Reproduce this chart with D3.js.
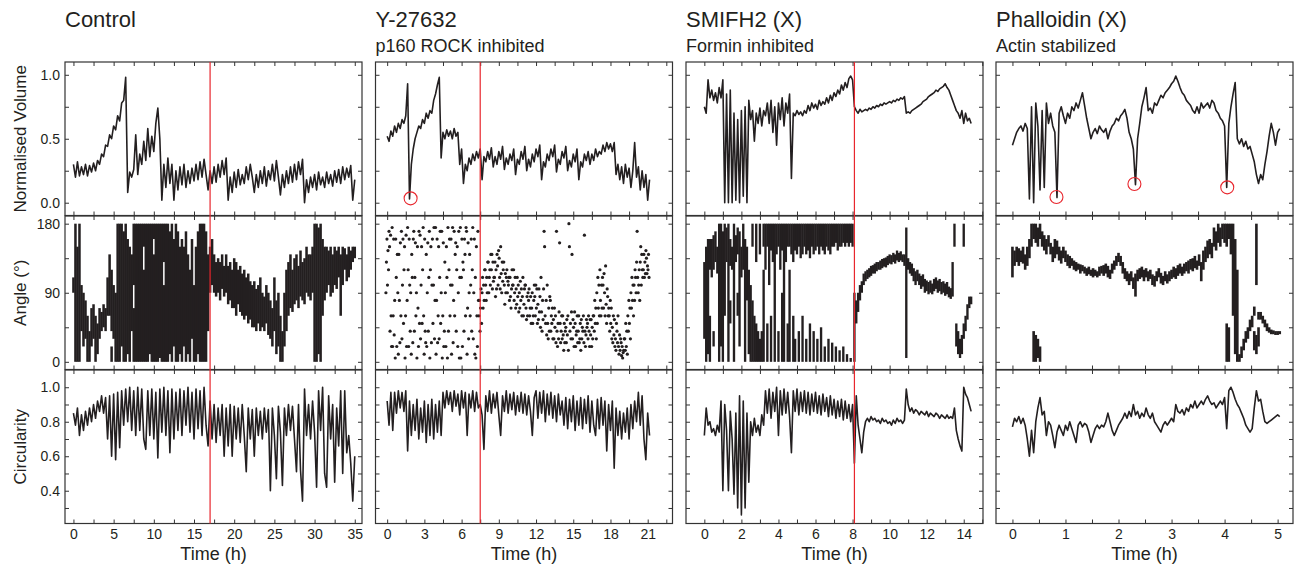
<!DOCTYPE html>
<html>
<head>
<meta charset="utf-8">
<script src="https://cdn.jsdelivr.net/npm/d3@7"></script>
<style>
  body { margin: 0; background: #fff; }
  svg text { font-family: "Liberation Sans", Arial, Helvetica, sans-serif; fill: #231f20; }
</style>
</head>
<body>
<svg id="chart" width="1294" height="572"></svg>
<script>
// ---- data ----
const titles = ["Control", "Y-27632", "SMIFH2 (X)", "Phalloidin (X)"];
const subtitles = ["", "p160 ROCK inhibited", "Formin inhibited", "Actin stabilized"];
const rowTitles = ["Normalised Volume", "Angle (\u00b0)", "Circularity"];
const sampleStep = [0.25, 0.15, 0.1, 0.04]; // hours between volume / circularity samples
const angleStep = [0.25, 0.25, 0.1, 0.04];  // hours between angle samples
const xTicks = [d3.range(0, 36, 2.5), d3.range(0, 23, 1.5), d3.range(0, 15.5, 1), d3.range(0, 5.5, 0.5)];
const xLabels = [[0, 5, 10, 15, 20, 25, 30, 35], [0, 3, 6, 9, 12, 15, 18, 21], [0, 2, 4, 6, 8, 10, 12, 14], [0, 1, 2, 3, 4, 5]];
const yTicks = [[0, 0.25, 0.5, 0.75, 1], [0, 45, 90, 135, 180], [0.3, 0.4, 0.5, 0.6, 0.7, 0.8, 0.9, 1.0]];
const yLabels = [[0, 0.5, 1], [0, 90, 180], [0.4, 0.6, 0.8, 1.0]];
const redLineAt = [17, 7.5, 8.1, null];
const circledDips = [[], [[1.89, 0.034]], [], [[0.83, 0.045], [2.30, 0.146], [4.05, 0.12]]];

const volControl = [0.30,0.20,0.32,0.21,0.28,0.22,0.30,0.21,0.29,0.24,0.31,0.25,0.33,
  0.30,0.38,0.36,0.45,0.44,0.53,0.50,0.60,0.57,0.68,0.64,0.78,0.80,0.98,0.08,
  0.24,0.20,0.26,0.53,
  0.22,0.38,0.30,0.48,0.33,0.58,0.36,0.52,0.40,0.62,0.74,0.50,0.02,
  0.30,0.12,0.35,0.15,0.30,0.02,
  0.25,0.10,0.28,0.14,0.30,0.12,0.25,0.15,0.27,0.17,0.30,0.18,0.32,0.20,0.34,0.22,0.10,
  0.25,0.15,0.28,0.16,0.30,0.20,0.33,0.22,0.35,0.02,
  0.20,0.08,0.24,0.12,0.26,0.14,0.22,0.15,0.28,0.18,0.30,0.20,0.08,
  0.22,0.12,0.25,0.15,0.28,0.13,0.25,0.18,0.30,0.17,0.33,0.20,0.06,
  0.22,0.12,0.25,0.15,0.28,0.16,0.30,0.18,0.32,0.22,0.34,0.00,
  0.18,0.08,0.20,0.12,0.22,0.10,0.24,0.14,0.20,0.12,0.24,0.15,0.22,0.13,0.25,0.16,0.26,0.15,0.28,0.18,0.27,0.20,0.29,0.02,0.18];

// angle: per sample, [lo, hi] ranges covered by the dots
const angControl = [[90,110],[0,180],[0,150],[0,180],[40,100],[20,90],[30,80],[0,60],[0,40],[20,70],
  [30,75],[0,60],[10,50],[30,70],[40,65],[45,75],[40,70],[60,110],[60,140],[0,20,40,120],
  [30,100],[0,90],[0,180],[0,180],[20,180],[0,170],[0,180],[10,160],[0,150],[40,140],
  [0,70,100,180],[0,180],[0,180],[0,180],[0,180],[0,120,150,180],[0,180],[0,180],[10,180],[0,180],
  [0,140,160,180],[0,180],[0,180],[5,180],[0,180],[0,100,130,180],[0,180],[0,180],[10,170],[0,180],
  [20,160],[0,180],[0,170],[10,150],[0,160],[20,150],[0,170],[10,140],[0,120],[30,160],
  [0,100],[0,150],[10,170],[0,180],[0,180],[0,180],[0,170],[40,140],
  [90,150],[100,160],[90,140],[85,130],[90,135],[80,130],[95,140],[85,125],[90,140],[75,125],[80,130],[70,120],
  [70,135],[60,130],[75,120],[65,125],[60,115],[55,120],[60,110],[50,115],[55,105],[45,100],
  [45,105],[40,95],[50,100],[40,110],[45,90],[40,85],[50,100],[35,90],[30,80],[20,70],
  [40,110],[10,80],[20,90],[0,60],[0,40],[20,90],[40,120],
  [60,130],[70,140],[65,120],[75,135],[80,140],[70,125],[85,145],[80,130],[75,135],[90,150],[85,140],[80,140],[90,150],
  [0,180],[0,180],[10,175],[0,180],[60,160],[80,150],
  [90,150],[100,145],[85,150],[90,140],[100,150],[95,145],[110,150],[60,140],[100,150],[120,148],[105,140],[110,150],[120,145],[130,150],[135,150]];

const circControl = [0.85,0.78,0.88,0.72,0.84,0.75,0.86,0.78,0.88,0.80,0.90,0.82,0.92,
  0.86,0.95,0.85,0.94,
  0.70,0.95,0.60,0.96,0.58,0.97,0.65,0.98,
  0.78,0.99,0.80,1.00,0.75,0.98,0.72,1.00,
  0.75,0.99,0.70,0.64,0.98,0.72,0.99,0.70,0.97,0.59,0.99,0.74,1.00,0.72,0.98,0.62,0.99,0.70,0.97,0.75,
  0.99,0.72,0.98,0.78,1.00,0.74,0.97,0.70,0.99,0.76,0.98,0.72,1.00,0.78,
  0.66,0.92,0.70,0.90,0.68,0.88,0.72,0.90,0.60,0.88,0.66,0.90,0.60,0.89,
  0.70,0.88,0.68,0.90,0.72,0.51,0.88,0.70,0.87,0.60,0.88,0.72,0.86,0.70,0.88,0.74,0.87,0.40,0.88,0.72,
  0.47,0.89,0.74,0.43,0.88,0.72,0.90,0.75,0.89,0.70,0.51,0.90,0.52,0.34,0.99,0.72,0.90,0.70,0.92,0.74,
  0.42,0.98,0.75,1.00,0.50,0.42,0.95,0.70,0.90,0.45,0.88,0.66,0.98,0.50,0.98,0.62,0.72,0.56,0.34,0.60];

const volY27632 = [0.52,0.48,0.56,0.52,0.60,0.55,0.62,0.58,0.65,0.62,0.68,0.93,0.03,
  0.30,0.42,0.50,0.55,0.60,0.58,0.65,0.62,0.70,0.66,0.72,0.70,0.80,0.85,0.92,0.98,0.35,
  0.55,0.50,0.57,0.52,0.56,0.50,0.58,0.52,0.55,0.30,0.42,0.15,
  0.30,0.25,0.35,0.30,0.38,0.33,0.40,0.35,0.42,0.18,0.36,0.32,0.40,0.34,0.43,0.28,0.36,0.30,0.40,0.34,
  0.44,0.26,0.35,0.30,0.38,0.33,0.42,0.22,0.34,0.30,0.40,0.34,0.44,0.25,0.34,0.28,0.38,0.32,0.42,0.36,
  0.45,0.18,0.32,0.28,0.38,0.33,0.42,0.36,0.45,0.24,0.34,0.30,0.40,0.35,0.44,0.25,0.33,0.28,0.38,0.32,
  0.42,0.18,0.32,0.28,0.38,0.33,0.40,0.30,0.38,0.33,0.42,0.36,0.40,
  0.38,0.45,0.40,0.47,0.42,0.46,0.40,0.47,0.22,
  0.30,0.18,0.28,0.15,0.30,0.20,0.27,0.12,0.25,0.47,0.20,0.28,0.10,0.25,0.12,0.22,0.02,0.18];

// angle: per sample, the individual dot angles
const angY27632 = [
  [90,130,160,100,145,120],[170,150,40,165,60,20],[175,20,60,160,35,80],[5,160,110,20,140,90],
  [10,140,80,25,155,60],[170,30,100,160,50,120],[150,5,60,165,20,80],[175,120,20,160,100,40],
  [90,10,140,110,25,160],[170,40,110,155,60,90],[5,150,70,20,170,50],[165,30,100,150,50,120],
  [175,60,10,160,40,25],[140,20,90,155,40,110],[170,5,120,150,25,100],[160,50,100,175,30,80],
  [175,10,80,160,25,60],[150,30,110,170,50,90],[170,5,60,155,20,40],[130,90,20,150,110,5],
  [175,40,120,160,60,100],[160,10,100,175,25,80],[170,60,140,155,40,120],[150,20,90,170,5,110],
  [175,5,110,160,20,130],[120,40,160,140,60,175],[170,10,70,155,30,90],[140,60,100,160,40,120],
  [175,30,90,160,10,110],[5,150,60,20,170,80],[60,80,40,70,95,50],[90,110,70,100,80,120],
  [120,100,80,110,90,130],[130,90,110,120,100,140],[120,140,95,130,105,110],[110,130,85,120,95,140],
  [125,100,145,135,110,95],[150,115,90,130,105,120],[130,100,75,115,90,110],[120,90,105,100,110,80],
  [110,85,70,95,120,100],[100,120,80,90,110,70],[95,75,110,85,100,65],[90,70,105,80,95,60],
  [85,110,60,75,95,100],[100,70,55,85,60,90],[80,95,60,70,85,50],[70,90,50,60,80,100],
  [85,60,100,70,95,50],[75,55,95,65,85,45],[110,65,40,80,55,95],[170,150,60,50,80,35],
  [100,50,30,70,40,85],[80,40,60,50,70,30],[55,30,70,45,60,25],[170,40,20,50,30,65],
  [155,50,25,40,60,30],[60,35,15,50,25,40],[45,25,55,35,60,15],[180,150,40,50,30,65],
  [140,30,55,45,20,65],[50,20,35,40,60,25],[40,60,25,30,50,15],[55,30,45,40,60,25],
  [165,40,20,35,55,45],[50,30,60,40,20,55],[35,55,20,45,30,60],[60,40,80,50,70,30],
  [90,50,110,70,100,60],[120,80,60,100,70,110],[100,70,115,90,60,125],[75,50,95,85,60,70],
  [60,40,80,50,70,30],[45,25,60,35,55,20],[30,15,50,40,25,60],[20,10,35,15,30,25],
  [8,20,5,12,15,30],[30,15,50,20,40,10],[60,40,80,50,70,30],[90,70,110,80,100,60],
  [100,80,120,110,90,130],[170,110,90,100,120,80],[130,150,100,140,120,110],[120,140,110,130,115,145],
  [135,115,125,120,140,110]];

const circY27632 = [0.92,0.78,0.97,0.75,0.97,0.85,0.98,0.88,0.97,0.86,0.98,0.63,
  0.92,0.72,0.90,0.75,0.93,0.70,0.88,0.74,0.92,0.68,0.90,0.72,0.93,0.70,0.90,0.74,0.92,0.72,
  0.97,0.88,0.98,0.90,0.97,0.86,0.98,0.89,0.96,0.84,0.98,0.88,0.97,0.72,0.96,0.88,0.98,0.86,0.97,0.88,
  0.90,0.84,0.64,
  0.95,0.86,0.98,0.85,0.96,0.88,0.97,0.84,0.72,0.95,0.86,0.98,0.85,0.96,0.87,0.97,0.84,0.95,0.86,0.97,
  0.85,0.96,0.84,0.95,0.86,0.72,0.94,
  0.98,0.82,0.97,0.85,0.98,0.80,0.96,0.84,0.97,0.82,0.95,0.80,0.96,0.84,
  0.92,0.78,0.94,0.76,0.93,0.80,0.95,0.75,0.92,0.78,0.94,0.76,0.93,0.79,0.95,0.74,0.92,0.78,0.72,0.93,
  0.76,0.94,0.78,0.92,0.63,0.90,0.75,0.92,0.53,
  0.88,0.72,0.86,0.70,0.85,0.74,0.88,0.70,0.90,0.76,0.92,0.80,0.97,0.78,0.95,0.70,0.58,0.85,0.72];

const volSMIFH2 = [0.75,0.70,0.96,0.82,0.88,0.80,0.86,0.78,0.90,0.82,0.96,0.00,0.85,0.00,0.88,
  0.00,0.70,0.02,0.65,0.00,0.72,0.05,0.75,0.00,0.80,
  0.65,0.72,0.48,0.70,0.62,0.74,0.60,0.72,
  0.68,0.78,0.62,0.80,0.55,0.75,0.45,0.78,0.65,0.82,0.60,0.78,0.70,0.85,0.19,0.70,
  0.68,0.72,0.69,0.71,0.68,0.72,
  0.70,0.76,0.72,0.78,0.74,0.77,0.73,0.80,0.76,0.79,0.77,0.82,0.78,0.84,0.80,0.86,0.83,0.88,0.85,0.92,
  0.88,0.94,0.90,0.97,0.99,
  0.96,0.75,
  0.72,0.70,0.73,0.71,0.72,0.73,0.72,0.74,0.73,0.75,0.74,0.76,0.75,0.77,0.76,0.78,0.77,0.78,0.79,0.78,
  0.80,0.79,0.81,0.80,0.82,0.81,0.83,
  0.70,
  0.71,0.70,0.72,0.73,0.74,0.75,0.76,0.77,0.79,0.80,0.81,0.83,0.84,0.85,0.86,0.88,0.87,0.89,0.90,0.91,0.93,
  0.90,0.88,0.84,0.80,0.76,0.72,0.70,
  0.66,0.72,0.62,0.70,0.64,0.66,0.62];

const angSMIFH2 = [[30,130],[0,150],[10,160],[0,60,120,160],[110,160],[20,40,120,165],[130,170],[115,150],[0,180],[20,180],
  [0,170],[60,180],[130,175],[0,180],[50,80,125,160],[120,150],[0,180],[130,165],[60,90,140,175],[20,170],
  [110,150],[120,180],[0,160],[80,150],[10,120],[0,100],[0,80,150,180],[0,60],[0,50,130,180],[0,40],
  [0,30,140,180],[0,40],[0,120,150,180],
  [120,180],[0,50,150,180],[100,180],[0,60,145,180],[130,180],[0,180],[140,180],[0,40,150,180],[120,180],[0,90,145,180],
  [0,180],[130,180],[0,50,150,180],[0,120,150,180],[140,180],[0,60,130,180],[0,30,145,180],[140,180],[0,40,150,180],[135,180],
  [0,60,140,180],[150,180],[0,30,140,180],[145,180],[0,50,135,180],[150,180],[0,40,140,180],[145,180],[0,30,150,180],[140,180],
  [0,45,150,180],[145,180],[0,20,140,180],[150,180],[0,30,145,180],[140,180],[0,25,150,180],[150,180],[0,20,155,180],[145,180],
  [0,15,150,180],[150,180],[0,20,155,180],[150,180],[0,10,155,180],[150,180],[0,5,155,180],[150,180],
  [0,90],[50,80],[65,90],[80,100],[90,105],
  [100,115],[105,118],[108,120],[110,122],[112,125],[115,126],[115,128],[118,130],[120,130],[120,132],
  [122,134],[124,135],[123,136],[126,138],[128,140],[127,139],[130,142],[128,140],[132,145],[130,142],
  [132,144],[130,140],[125,140],
  [5,175],
  [120,135],[115,130],[112,128],[105,122],[100,118],[105,120],[100,115],[95,112],[98,114],[90,108],
  [92,106],[88,104],[90,106],[88,102],[92,108],[95,110],[90,106],[92,108],[88,104],[90,105],
  [86,102],[88,104],[84,98],[82,96],
  [85,130],[150,180],[20,50],[10,40],[5,30],[10,35],[30,50,150,180],[40,60],[55,75],[70,85],[75,85]];

const circSMIFH2 = [0.72,0.88,0.78,0.80,0.74,0.76,0.72,0.78,0.74,0.92,
  0.40,0.90,0.75,0.40,0.86,0.70,0.38,0.85,0.30,0.95,0.26,0.92,0.30,0.85,0.45,
  0.80,0.72,0.82,0.74,0.78,0.72,0.84,0.78,
  0.98,0.85,0.99,0.82,0.97,0.86,1.00,0.72,0.98,0.84,0.99,0.85,0.97,0.83,0.62,0.98,0.86,0.99,0.84,0.97,
  0.86,0.98,0.85,0.97,0.84,0.96,0.86,0.97,0.85,0.95,0.84,0.96,0.86,0.94,0.83,0.95,0.84,0.93,0.82,0.92,
  0.83,0.93,0.81,0.92,0.82,0.90,0.80,0.90,
  0.56,0.95,0.78,0.70,0.62,0.74,0.80,
  0.82,0.80,0.83,0.81,0.82,0.80,0.81,0.79,0.82,0.80,0.81,0.79,0.80,0.78,0.81,0.79,0.82,0.80,0.81,0.79,0.81,
  0.99,
  0.90,0.86,0.88,0.85,0.87,0.86,0.84,0.86,0.85,0.84,0.86,0.83,0.85,0.84,0.83,0.85,0.84,0.82,0.84,0.83,
  0.82,0.84,0.82,0.83,
  0.82,0.88,0.75,0.70,0.66,0.63,1.00,0.96,0.94,0.90,0.86];

const volPhalloidin = [0.45,0.50,0.55,0.58,0.60,0.56,0.62,0.58,0.03,0.75,0.00,0.78,0.60,0.10,0.72,0.12,0.78,0.62,0.70,0.60,
  0.55,0.04,0.70,0.75,0.68,0.62,0.70,0.66,0.75,0.72,0.78,0.74,0.80,0.86,0.76,0.66,0.58,0.50,0.55,0.58,
  0.54,0.60,0.57,0.55,0.58,0.50,0.56,0.60,0.62,0.66,0.64,0.68,0.70,0.73,0.66,0.55,0.50,0.42,0.14,0.50,
  0.62,0.75,0.82,0.90,0.72,0.74,0.70,0.78,0.76,0.80,0.84,0.82,0.86,0.88,0.90,0.93,0.95,0.99,0.95,0.90,
  0.86,0.84,0.80,0.78,0.76,0.72,0.70,0.75,0.70,0.78,0.74,0.76,0.78,0.74,0.80,0.78,0.72,0.70,0.66,0.64,
  0.60,0.12,0.62,0.75,0.85,0.94,0.50,0.46,0.50,0.44,0.48,0.42,0.44,0.38,0.32,0.22,0.15,0.22,0.18,0.30,
  0.40,0.52,0.62,0.55,0.45,0.55,0.58];

const angPhalloidin = [[110,150],[125,145],[130,150],[125,148],[130,145],[128,150],[120,140],[125,150],[135,160],[150,180],
  [0,40,160,180],[0,35,155,180],[5,30,150,175],[0,20,160,180],[150,170],[145,165],[140,160],[150,165],[140,155],[130,150],
  [135,160],[140,158],[132,150],[128,145],[135,150],[130,145],[125,140],[122,138],[125,135],[120,132],
  [118,130],[120,128],[115,127],[118,126],[115,124],[112,122],[114,124],[112,120],[110,122],[112,120],
  [110,118],[112,124],[115,125],[112,126],[115,128],[110,125],[108,120],[115,128],[120,132],[125,138],
  [130,142],[125,138],[115,130],[108,122],[105,118],[100,115],[105,118],[95,110],[85,115],[105,120],
  [108,122],[110,124],[105,120],[110,122],[105,118],[108,120],[100,114],[98,112],[105,118],[110,122],
  [102,116],[100,112],[105,118],[102,114],[105,118],[108,120],[110,124],[108,122],[112,126],[115,128],
  [112,124],[115,128],[118,130],[115,132],[120,134],[118,135],[122,138],[120,132],[125,140],[105,130],
  [120,145],[130,150],[135,158],[140,160],[135,155],[150,175],[145,170],[155,180],[150,175],[160,180],
  [155,180],[0,50,150,180],[0,45,160,180],[140,180],[60,180],[10,160],[0,120],[0,10],[5,20],[15,30],
  [25,40],[30,45],[40,55],[45,60],[15,40,60,72],[10,35,100,180],[20,45,55,65],[55,65],[50,60],[45,55],
  [40,50],[38,45],[36,42],[36,41],[35,40],[35,40],[36,40]];

const circPhalloidin = [0.77,0.82,0.80,0.83,0.79,0.82,0.78,0.70,0.60,0.75,0.62,0.80,0.88,0.94,0.84,0.86,0.72,0.80,0.78,0.72,
  0.65,0.74,0.78,0.75,0.72,0.78,0.75,0.80,0.76,0.72,0.68,0.78,0.80,0.77,0.79,0.78,0.74,0.68,0.72,0.76,
  0.78,0.76,0.78,0.77,0.80,0.85,0.80,0.75,0.72,0.75,0.78,0.80,0.82,0.85,0.82,0.86,0.83,0.90,0.84,0.86,
  0.82,0.85,0.83,0.88,0.84,0.82,0.85,0.80,0.78,0.76,0.74,0.78,0.80,0.78,0.80,0.82,0.80,0.90,0.86,0.85,
  0.87,0.84,0.88,0.86,0.90,0.88,0.92,0.88,0.90,0.92,0.90,0.93,0.95,0.92,0.90,0.91,0.88,0.90,0.92,0.90,
  0.94,0.76,0.98,1.00,0.97,0.93,0.90,0.88,0.85,0.82,0.78,0.76,0.74,0.76,0.88,0.98,0.92,0.93,0.86,0.80,
  0.79,0.80,0.81,0.82,0.83,0.84,0.83];

const volumes = [volControl, volY27632, volSMIFH2, volPhalloidin];
const angles = [angControl, angY27632, angSMIFH2, angPhalloidin];
const circularities = [circControl, circY27632, circSMIFH2, circPhalloidin];

// ---- layout ----
const colLeft = [65, 375.5, 686, 996];
const colWidth = 297;
const rowTop = [62, 216, 370];
const rowHeight = 153.5;
const xDomains = [[-1.05, 35.9], [-0.94, 23.0], [-0.99, 15.04], [-0.31, 5.29]];
const yDomains = [[-0.1, 1.1], [-10, 190], [0.21, 1.1]];
const yFormats = [d3.format(".1f"), d3.format("d"), d3.format(".1f")];
const ink = "#231f20";
const red = "#e8262d";

const svg = d3.select("#chart");

// titles
titles.forEach((t, c) => {
  svg.append("text").attr("x", colLeft[c]).attr("y", 27).style("font-size", "22px").text(t);
  if (subtitles[c]) svg.append("text").attr("x", colLeft[c]).attr("y", 51.5).style("font-size", "18px").text(subtitles[c]);
  svg.append("text").attr("x", colLeft[c] + colWidth / 2).attr("y", 560)
    .attr("text-anchor", "middle").style("font-size", "18px").text("Time (h)");
});
rowTitles.forEach((t, r) => {
  svg.append("text")
    .attr("transform", `translate(26,${rowTop[r] + rowHeight / 2}) rotate(-90)`)
    .attr("text-anchor", "middle").style("font-size", "17px").text(t);
});

const lineGen = (x, y, step) => d3.line()
  .x((d, i) => x(i * step))
  .y(d => y(d))
  .defined(d => d != null);

for (let c = 0; c < 4; c++) {
  const step = sampleStep[c];
  const aStep = angleStep[c];
  const x = d3.scaleLinear().domain(xDomains[c]).range([0, colWidth]);
  for (let r = 0; r < 3; r++) {
    const y = d3.scaleLinear().domain(yDomains[r]).range([rowHeight, 0]);
    const g = svg.append("g").attr("transform", `translate(${colLeft[c]},${rowTop[r]})`);
    const clipId = `clip-${c}-${r}`;
    g.append("clipPath").attr("id", clipId).append("rect").attr("width", colWidth).attr("height", rowHeight);
    const plot = g.append("g").attr("clip-path", `url(#${clipId})`);

    if (r === 0 || r === 2) {
      const series = r === 0 ? volumes[c] : circularities[c];
      plot.append("path").datum(series)
        .attr("d", lineGen(x, y, step))
        .attr("fill", "none").attr("stroke", ink)
        .attr("stroke-width", 1.6).attr("stroke-linejoin", "round");
    } else if (c === 1) {
      // scattered dots, spread across each sample interval
      const dots = angles[c].flatMap((bin, i) => bin.map((v, k) => [i * aStep + (k / bin.length - 0.4) * aStep, v]));
      plot.selectAll("circle").data(dots).join("circle")
        .attr("cx", d => x(d[0])).attr("cy", d => y(d[1])).attr("r", 1.6).attr("fill", ink);
    } else {
      // dense dot clouds drawn as the angle range they cover
      const w = x(aStep) - x(0) + 0.5;
      const bars = angles[c].flatMap((bin, i) => {
        const out = [];
        for (let k = 0; k < bin.length; k += 2) out.push([i * aStep, bin[k], bin[k + 1]]);
        return out;
      });
      plot.selectAll("rect").data(bars).join("rect")
        .attr("x", d => x(d[0]) - w / 2).attr("width", w)
        .attr("y", d => y(d[2]))
        .attr("height", d => Math.max(y(d[1]) - y(d[2]), 2.5))
        .attr("fill", ink);
    }

    // axes, ticks pointing inwards on all four sides
    const yAxis = d3.axisLeft(y).tickValues(yTicks[r]).tickSize(-4).tickPadding(5)
      .tickFormat(v => (c === 0 && yLabels[r].some(l => Math.abs(l - v) < 1e-9)) ? yFormats[r](v) : "");
    const yAxisR = d3.axisRight(y).tickValues(yTicks[r]).tickSize(-4).tickFormat("");
    const xAxisT = d3.axisTop(x).tickValues(xTicks[c]).tickSize(-4).tickFormat("");
    const xAxisB = d3.axisBottom(x).tickValues(xTicks[c]).tickSize(-4).tickPadding(6)
      .tickFormat(v => (r === 2 && xLabels[c].includes(v)) ? d3.format("d")(v) : "");
    g.append("g").call(yAxis);
    g.append("g").attr("transform", `translate(${colWidth},0)`).call(yAxisR);
    g.append("g").call(xAxisT);
    g.append("g").attr("transform", `translate(0,${rowHeight})`).call(xAxisB);
    g.selectAll(".domain").remove();
    g.selectAll(".tick line").attr("stroke", "#333").attr("stroke-width", 1);
    g.selectAll(".tick text").style("font-size", "14px").style("font-family", "\"Liberation Sans\", Arial, sans-serif").attr("fill", ink);

    g.append("rect").attr("width", colWidth).attr("height", rowHeight)
      .attr("fill", "none").attr("stroke", "#333").attr("stroke-width", 1.2);

    // circled drops in volume
    if (r === 0) {
      g.selectAll("circle.dip").data(circledDips[c]).join("circle").attr("class", "dip")
        .attr("cx", d => x(d[0])).attr("cy", d => y(d[1])).attr("r", 6.5)
        .attr("fill", "none").attr("stroke", red).attr("stroke-width", 1.1);
    }
  }
  if (redLineAt[c] != null) {
    svg.append("line")
      .attr("x1", colLeft[c] + x(redLineAt[c])).attr("x2", colLeft[c] + x(redLineAt[c]))
      .attr("y1", rowTop[0]).attr("y2", rowTop[2] + rowHeight)
      .attr("stroke", red).attr("stroke-width", 1.2);
  }
}
</script>
</body>
</html>
